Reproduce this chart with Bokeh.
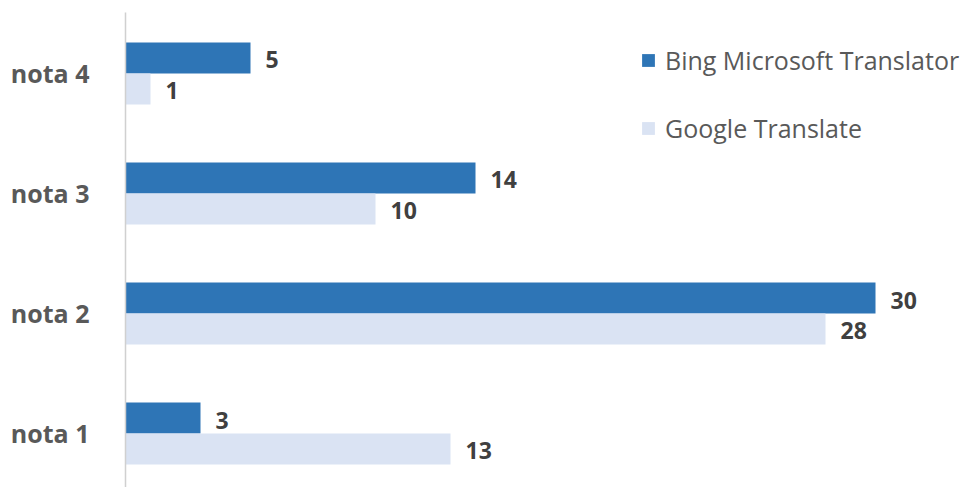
from bokeh.plotting import figure
from bokeh.models import ColumnDataSource, Range1d, Legend, LegendItem, FixedTicker
from bokeh.transform import dodge
from bokeh.core.properties import value
from bokeh.embed import file_html
from bokeh.resources import INLINE

categories = ["nota 1", "nota 2", "nota 3", "nota 4"]
bing = [3, 30, 14, 5]
google = [13, 28, 10, 1]
series_names = ["Bing Microsoft Translator", "Google Translate"]

BING_COLOR = "#2E75B6"
GOOGLE_COLOR = "#DAE3F3"
FONT = "Open Sans"

pos = list(range(len(categories)))
src = ColumnDataSource(dict(
    y=pos, bing=bing, google=google,
    bing_lbl=[str(v) for v in bing], google_lbl=[str(v) for v in google],
))

p = figure(width=969, height=487, output_backend="svg", toolbar_location=None,
           x_range=Range1d(0, 33.76), y_range=Range1d(-0.45, 3.508),
           min_border_left=125, min_border_right=0, min_border_top=12, min_border_bottom=0)

bh = 0.258
off = 0.129
r1 = p.hbar(y=dodge("y", off), right="bing", left=0, height=bh, source=src,
            fill_color=BING_COLOR, line_color=None)
r2 = p.hbar(y=dodge("y", -off), right="google", left=0, height=bh, source=src,
            fill_color=GOOGLE_COLOR, line_color=None)

p.text(x="bing", y=dodge("y", off), text="bing_lbl", source=src, x_offset=15, y_offset=2,
       text_baseline="middle", text_font=value(FONT), text_font_style="bold",
       text_font_size="23px", text_color="#404040")
p.text(x="google", y=dodge("y", -off), text="google_lbl", source=src, x_offset=15, y_offset=2,
       text_baseline="middle", text_font=value(FONT), text_font_style="bold",
       text_font_size="23px", text_color="#404040")

p.xaxis.visible = False
p.xgrid.visible = False
p.ygrid.visible = False
p.outline_line_color = None

ya = p.yaxis[0]
ya.ticker = FixedTicker(ticks=pos)
ya.major_label_overrides = {i: c for i, c in enumerate(categories)}
ya.major_tick_line_color = None
ya.minor_tick_line_color = None
ya.axis_line_color = "#D0D0D0"
ya.axis_line_width = 1.5
ya.major_label_standoff = 30
ya.major_label_text_font = FONT
ya.major_label_text_font_style = "bold"
ya.major_label_text_font_size = "25px"
ya.major_label_text_color = "#595959"

legend = Legend(items=[LegendItem(label=series_names[0], renderers=[r1]),
                       LegendItem(label=series_names[1], renderers=[r2])],
                location=(515, 342), orientation="vertical",
                glyph_width=16, glyph_height=16, label_text_font=FONT,
                label_text_font_size="25px", label_text_color="#595959",
                label_standoff=9, spacing=34, padding=0, margin=0,
                border_line_color=None, background_fill_alpha=0)
p.add_layout(legend)

open("out.html", "w").write(file_html(p, INLINE))
